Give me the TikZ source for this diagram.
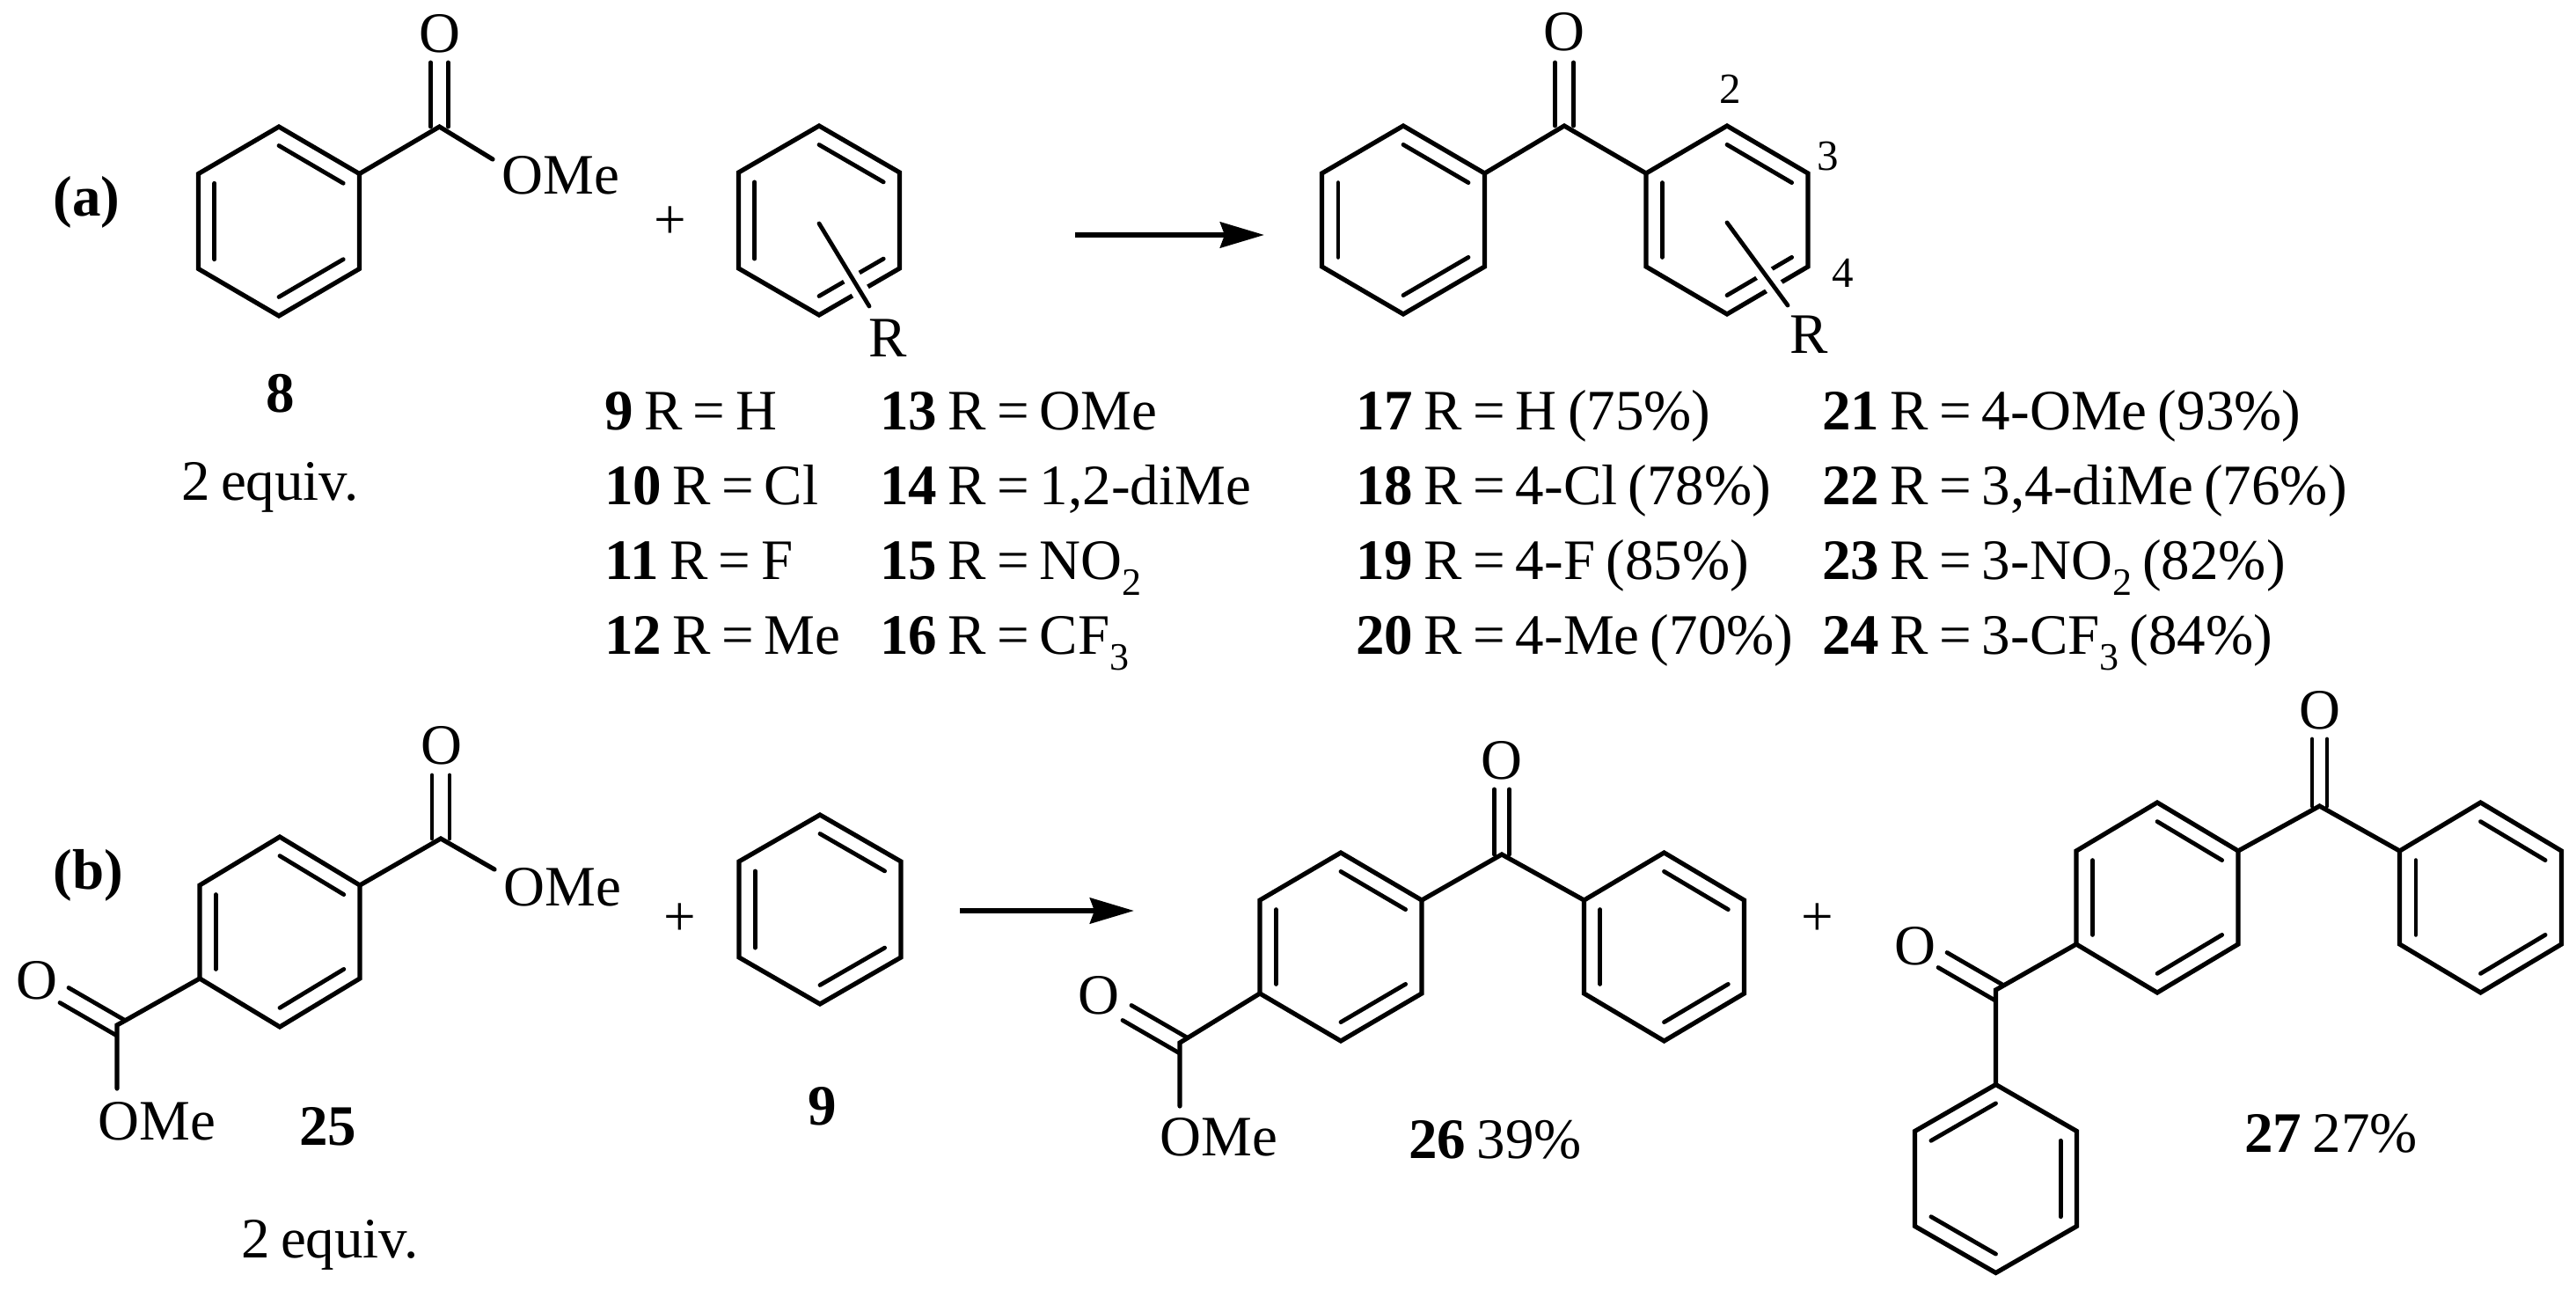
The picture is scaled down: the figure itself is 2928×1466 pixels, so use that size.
\documentclass[tikz,border=0pt]{standalone}
\usepackage{fontspec}
\setmainfont[WordSpace=0.75]{Liberation Serif}
\usetikzlibrary{calc,arrows.meta}
\newcommand\subsc[1]{\raisebox{-9pt}{\fontsize{22}{24}\selectfont #1}}
\tikzset{
  bond/.style={draw=black,line width=2.6pt,line cap=round,line join=miter},
  thin bond/.style={draw=black,line width=2.4pt,line cap=round},
  halo/.style={draw=white,line width=10pt},
  rxn/.style={draw=black,line width=3pt,-{Stealth[length=25pt,width=14.5pt,inset=2.5pt]}},
  txt/.style={inner sep=0pt,anchor=base west,font=\fontsize{32.5}{39}\selectfont},
  atom/.style={inner sep=0pt,anchor=base,font=\fontsize{32.5}{39}\selectfont},
  locant/.style={inner sep=0pt,anchor=base,font=\fontsize{24.5}{30}\selectfont},
  plussign/.style={inner sep=0pt,anchor=center,font=\fontsize{32.5}{39}\selectfont}
}
% ring: name, cx, cy, half width, top height, side height
\newcommand\benzring[6]{%
  \coordinate (#1c) at (#2,#3);
  \coordinate (#1v1) at ({#2},{#3-#5});
  \coordinate (#1v2) at ({#2+#4},{#3-#6});
  \coordinate (#1v3) at ({#2+#4},{#3+#6});
  \coordinate (#1v4) at ({#2},{#3+#5});
  \coordinate (#1v5) at ({#2-#4},{#3+#6});
  \coordinate (#1v6) at ({#2-#4},{#3-#6});
  \draw[bond] (#1v1)--(#1v2)--(#1v3)--(#1v4)--(#1v5)--(#1v6)--cycle;
}
\newcommand\innerbond[3]{\draw[thin bond] ($(#1c)!.8!(#1v#2)$) -- ($(#1c)!.8!(#1v#3)$);}
\newcommand\kekA[1]{\innerbond{#1}{1}{2}\innerbond{#1}{3}{4}\innerbond{#1}{5}{6}}
\newcommand\kekB[1]{\innerbond{#1}{6}{1}\innerbond{#1}{2}{3}\innerbond{#1}{4}{5}}
% double bond between two named points, half offset dx dy
\newcommand\dbl[4]{%
  \draw[thin bond] ($(#1)+(#3,#4)$) -- ($(#2)+(#3,#4)$);
  \draw[thin bond] ($(#1)-(#3,#4)$) -- ($(#2)-(#3,#4)$);
}
\begin{document}
\begin{tikzpicture}[x=0.5pt,y=-0.5pt]
\useasboundingbox (0,0) rectangle (2928,1466);
% ---------- (a) ----------
\node[txt] (la) at (60,246) {\textbf{(a)}};
\benzring{A}{317}{251.5}{91.5}{107.5}{54}\kekA{A}
\coordinate (AC) at (499.5,144);
\coordinate (AOb) at (499.5,71);
\coordinate (AOe) at (560,181);
\draw[bond] (Av2)--(AC)--(AOe);
\dbl{AC}{AOb}{10}{0}
\node[atom] (AO) at (500,60) {O};
\node[txt] (AOMe) at (570,221) {OMe};
\node[atom] (l8) at (319,468) {\textbf{8}};
\node[txt] (eq8) at (206,568) {2 equiv.};
\node[plussign] (pa) at (762,253) {+};
\benzring{B}{931}{250.5}{91.5}{107.5}{54.5}\kekA{B}
\coordinate (Bs) at (931,254);
\coordinate (Be) at (988,348);
\draw[halo] ($(Bs)!.55!(Be)$) -- ($(Bs)!.97!(Be)$);
\draw[thin bond] (Bs)--(Be);
\node[atom] (BR) at (1009,405) {R};
% table
\node[txt] (r9) at (687,488) {\textbf{9} R = H};
\node[txt] (r10) at (687,573) {\textbf{10} R = Cl};
\node[txt] (r11) at (687,658) {\textbf{11} R = F};
\node[txt] (r12) at (687,743) {\textbf{12} R = Me};
\node[txt] (r13) at (1000,488) {\textbf{13} R = OMe};
\node[txt] (r14) at (1000,573) {\textbf{14} R = 1,2-diMe};
\node[txt] (r15) at (1000,658) {\textbf{15} R = NO\subsc{2}};
\node[txt] (r16) at (1000,743) {\textbf{16} R = CF\subsc{3}};
\node[txt] (r17) at (1541,488) {\textbf{17} R = H (75\%)};
\node[txt] (r18) at (1541,573) {\textbf{18} R = 4-Cl (78\%)};
\node[txt] (r19) at (1541,658) {\textbf{19} R = 4-F (85\%)};
\node[txt] (r20) at (1541,743) {\textbf{20} R = 4-Me (70\%)};
\node[txt] (r21) at (2071,488) {\textbf{21} R = 4-OMe (93\%)};
\node[txt] (r22) at (2071,573) {\textbf{22} R = 3,4-diMe (76\%)};
\node[txt] (r23) at (2071,658) {\textbf{23} R = 3-NO\subsc{2} (82\%)};
\node[txt] (r24) at (2071,743) {\textbf{24} R = 3-CF\subsc{3} (84\%)};
% arrow a
\coordinate (a1) at (1222,267);
\coordinate (a2) at (1437,267);
\draw[rxn] (a1)--(a2);
% product a
\benzring{C}{1595}{250}{92.5}{107}{53}\kekA{C}
\benzring{D}{1963}{250}{92}{107}{53}\kekA{D}
\coordinate (PC) at (1778,143);
\coordinate (PCb) at (1778,71);
\draw[bond] (Cv2)--(PC)--(Dv6);
\dbl{PC}{PCb}{10.5}{0}
\node[atom] (PO) at (1778,58) {O};
\coordinate (Ds) at (1963,253);
\coordinate (De) at (2032,347);
\draw[halo] ($(Ds)!.55!(De)$) -- ($(Ds)!.97!(De)$);
\draw[thin bond] (Ds)--(De);
\node[atom] (DR) at (2056,401) {R};
\node[locant] (n2) at (1967,118) {2};
\node[locant] (n3) at (2078,194) {3};
\node[locant] (n4) at (2095,326) {4};
% ---------- (b) ----------
\node[txt] (lb) at (60,1010) {\textbf{(b)}};
\benzring{E}{318}{1059}{91}{108}{53}\kekA{E}
\coordinate (EC) at (501,953);
\coordinate (ECb) at (501,881);
\coordinate (EOe) at (562,988);
\draw[bond] (Ev2)--(EC)--(EOe);
\dbl{EC}{ECb}{10}{0}
\node[atom] (EO) at (501.5,868) {O};
\node[txt] (EOMe) at (572,1029) {OMe};
\coordinate (EL) at (133,1165);
\coordinate (ELn) at (137,1168);
\coordinate (ELb) at (73,1131);
\coordinate (ELe) at (133,1237);
\draw[bond] (Ev5)--(EL)--(ELe);
\dbl{ELn}{ELb}{5}{-8.5}
\node[atom] (EOl) at (42,1135) {O};
\node[txt] (EOMel) at (111,1295) {OMe};
\node[txt] (l25) at (340,1301) {\textbf{25}};
\node[txt] (eq25) at (274,1429) {2 equiv.};
\node[plussign] (pb) at (773,1045) {+};
\benzring{F}{932}{1033.5}{92}{107.5}{54.5}\kekA{F}
\node[atom] (l9) at (935,1278) {\textbf{9}};
% arrow b
\coordinate (b1) at (1091,1035);
\coordinate (b2) at (1289,1035);
\draw[rxn] (b1)--(b2);
% product 26
\benzring{G}{1524}{1076}{92}{107}{53}\kekA{G}
\benzring{H}{1891.5}{1076}{91}{107}{53}\kekA{H}
\coordinate (GC) at (1707,971);
\coordinate (GCb) at (1707,897);
\draw[bond] (Gv2)--(GC)--(Hv6);
\dbl{GC}{GCb}{8.5}{0}
\node[atom] (GO) at (1707,885) {O};
\coordinate (GL) at (1341,1185);
\coordinate (GLn) at (1345,1188);
\coordinate (GLb) at (1281,1151);
\coordinate (GLe) at (1341,1257);
\draw[bond] (Gv5)--(GL)--(GLe);
\dbl{GLn}{GLb}{5}{-8.5}
\node[atom] (GOl) at (1249,1152) {O};
\node[txt] (GOMe) at (1318,1313) {OMe};
\node[txt] (l26) at (1601,1316) {\textbf{26} 39\%};
\node[plussign] (pc) at (2066,1045) {+};
% product 27
\benzring{I}{2452}{1020}{92}{108}{53}\kekA{I}
\benzring{J}{2819.5}{1020}{92}{108}{53}\kekA{J}
\coordinate (IC) at (2636.5,916);
\coordinate (ICb) at (2636.5,840);
\draw[bond] (Iv2)--(IC)--(Jv6);
\dbl{IC}{ICb}{8.5}{0}
\node[atom] (IO) at (2636.5,828) {O};
\benzring{K}{2268.5}{1339.5}{92}{107}{54}\kekB{K}
\coordinate (IL) at (2268.5,1125);
\coordinate (ILn) at (2272,1128);
\coordinate (ILb) at (2208,1091);
\draw[bond] (Iv5)--(IL)--(Kv1);
\dbl{ILn}{ILb}{5}{-8.5}
\node[atom] (IOl) at (2176.5,1096) {O};
\node[txt] (l27) at (2551,1309) {\textbf{27} 27\%};
\end{tikzpicture}
\end{document}
